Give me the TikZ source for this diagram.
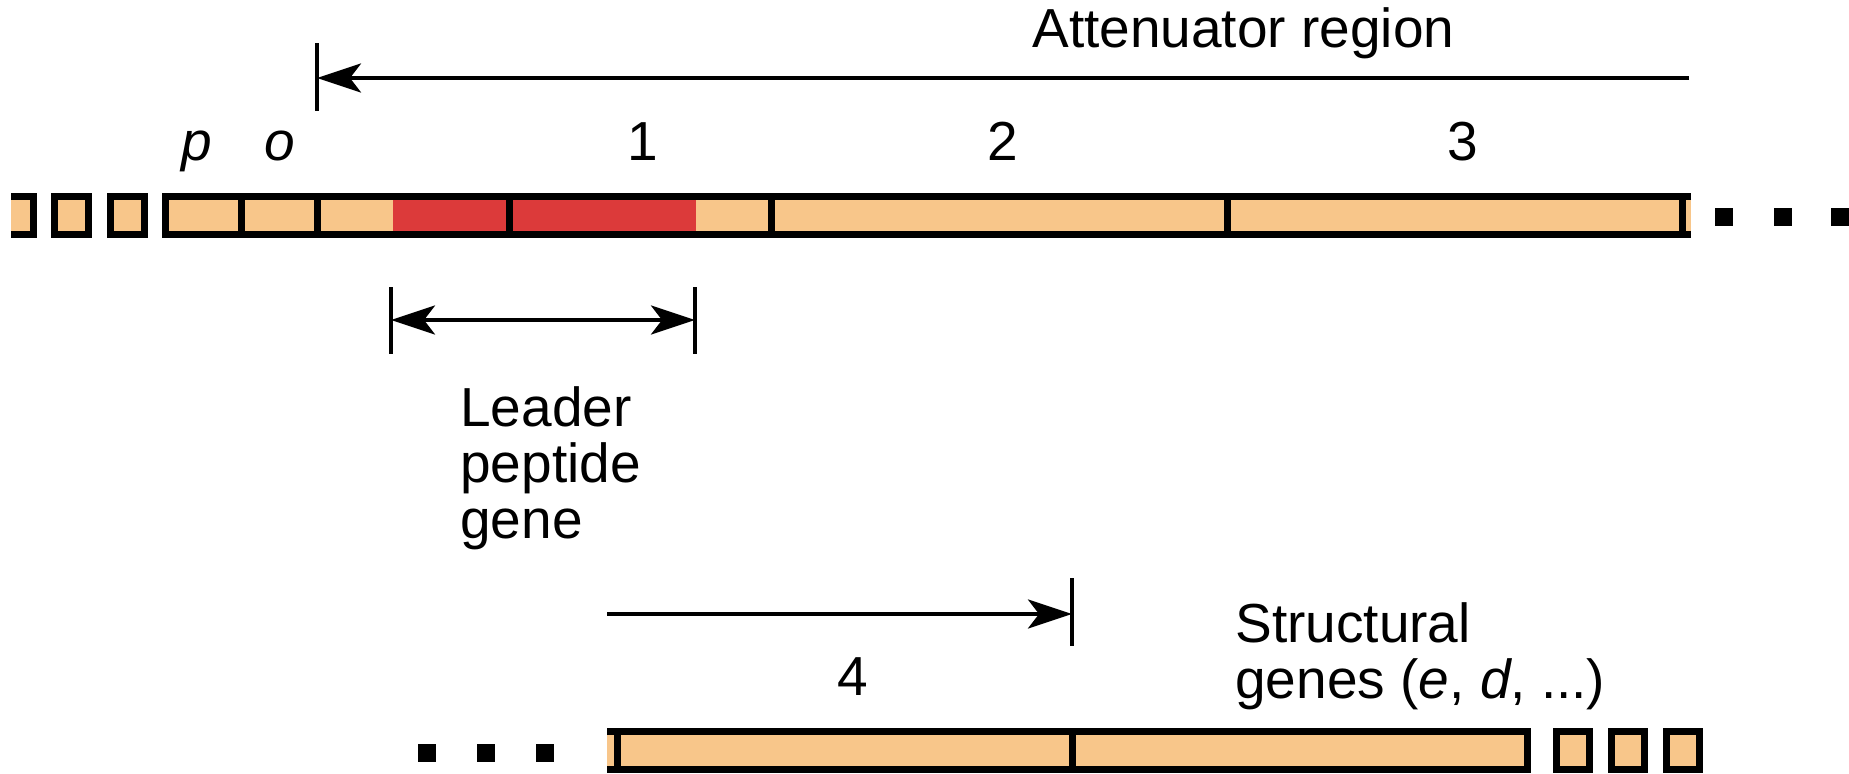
\documentclass[tikz,border=0pt]{standalone}
\usepackage{fontspec}
\setmainfont{Liberation Sans}
\usetikzlibrary{arrows.meta}
\definecolor{geneorange}{RGB}{248,198,138}
\definecolor{leaderred}{RGB}{220,58,58}

\begin{document}
\begin{tikzpicture}[x=0.5pt,y=-0.5pt,
  seg/.style={line width=3.5pt, line join=miter},
  dimline/.style={line width=2pt},
  tickline/.style={line width=2.2pt},
  headtip/.tip={Stealth[length=22pt,width=14.5pt,inset=5.5pt]},
  lbl/.style={inner sep=0pt, font=\fontsize{27.5}{28}\selectfont},
  dotsq/.style={fill=black}]
\useasboundingbox (0,0) rectangle (1849,773);

% ---------- upper DNA strip: leader, attenuator ----------
\fill[geneorange] (11,196.5) rectangle (33.5,234.5);
\draw[seg] (11,196.5) -- (33.5,196.5) -- (33.5,234.5) -- (11,234.5);
\filldraw[seg, fill=geneorange] (54.5,196.5) rectangle (88.5,234.5);
\filldraw[seg, fill=geneorange] (110.5,196.5) rectangle (144.5,234.5);

\fill[geneorange] (165.5,196.5) rectangle (1691,234.5);
\fill[leaderred] (393,196.5) rectangle (696,234.5);
\draw[seg] (1691,196.5) -- (165.5,196.5) -- (165.5,234.5) -- (1691,234.5);
\foreach \x in {241,317,509,771,1227,1682}
  \draw[seg] (\x,196.5) -- (\x,234.5);

\foreach \x in {1715,1774,1831}
  \fill[dotsq] (\x,208) rectangle ++(18,18);

% segment labels
\node[lbl, anchor=base] (lblp) at (197,160) {\itshape p};
\node[lbl, anchor=base] (lblo) at (280,160) {\itshape o};
\node[lbl, anchor=base] (lbl1) at (643,160) {1};
\node[lbl, anchor=base] (lbl2) at (1003,160) {2};
\node[lbl, anchor=base] (lbl3) at (1463,160) {3};

% attenuator region span
\node[lbl, anchor=base west] (att) at (1032,47) {Attenuator region};
\coordinate (attTop) at (317,43);
\coordinate (attBot) at (317,111);
\coordinate (attTip) at (317,78);
\coordinate (attEnd) at (1689,78);
\draw[tickline] (attTop) -- (attBot);
\draw[dimline, -headtip] (attEnd) -- (attTip);

% leader peptide span
\coordinate (ldTopL) at (391,287);
\coordinate (ldBotL) at (391,354);
\coordinate (ldTopR) at (695,287);
\coordinate (ldBotR) at (695,354);
\coordinate (ldL) at (391,320);
\coordinate (ldR) at (695,320);
\draw[tickline] (ldTopL) -- (ldBotL);
\draw[tickline] (ldTopR) -- (ldBotR);
\draw[dimline, headtip-headtip] (ldL) -- (ldR);
\node[lbl, anchor=north west, align=left] (leader) at (460,386)
  {Leader\\peptide\\gene};

% ---------- lower DNA strip: region 4 and structural genes ----------
\coordinate (s4Start) at (607,614);
\coordinate (s4Tip) at (1072,614);
\coordinate (s4Top) at (1072,578);
\coordinate (s4Bot) at (1072,646);
\draw[tickline] (s4Top) -- (s4Bot);
\draw[dimline, -headtip] (s4Start) -- (s4Tip);
\node[lbl, anchor=base] (lbl4) at (853,695) {4};
\node[lbl, anchor=north west, align=left] (struct) at (1235,602)
  {Structural\\genes (\textit{e}, \textit{d}, ...)};

\foreach \x in {418,477,536}
  \fill[dotsq] (\x,744) rectangle ++(18,18);

\fill[geneorange] (607,731.5) rectangle (1527.5,769.5);
\draw[seg] (607,731.5) -- (1527.5,731.5) -- (1527.5,769.5) -- (607,769.5);
\foreach \x in {617,1072}
  \draw[seg] (\x,731.5) -- (\x,769.5);
\foreach \x in {1553,1608,1663}
  \filldraw[seg, fill=geneorange] (\x+3.5,731.5) rectangle (\x+36.5,769.5);
\end{tikzpicture}
\end{document}
